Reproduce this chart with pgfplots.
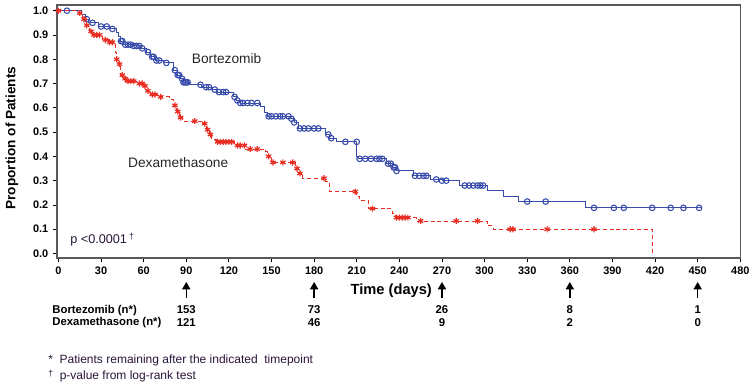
\documentclass[border=0pt]{standalone}
\usepackage{fontspec}
\setmainfont{Liberation Sans}
\usepackage{pgfplots}
\pgfplotsset{compat=1.18}
\usetikzlibrary{arrows.meta}
\definecolor{bblue}{RGB}{55,75,170}
\definecolor{dred}{RGB}{232,45,35}
\definecolor{txt}{RGB}{40,20,55}
\begin{document}
\begin{tikzpicture}
\path[use as bounding box] (-42.75pt,-95.25pt) rectangle (521.25pt,193.5pt);
\begin{axis}[
  at={(0,0)}, anchor=south west,
  scale only axis, width=512.8pt, height=189.75pt,
  xmin=-1, xmax=480.3, ymin=-0.0185, ymax=1.0235,
  clip=false,
  xtick={0,30,60,90,120,150,180,210,240,270,300,330,360,390,420,450,480},
  ytick={0,0.1,0.2,0.3,0.4,0.5,0.6,0.7,0.8,0.9,1.0},
  yticklabel style={/pgf/number format/.cd,fixed,fixed zerofill,precision=1},
  /pgf/number format/assume math mode=true,
  tick label style={font=\bfseries\fontsize{8.2}{9}\selectfont},
  xtick pos=bottom, ytick pos=left, tick align=outside,
  major tick length=3pt,
  axis line style={draw=black!65, line width=0.8pt},
  every tick/.style={black, line width=0.6pt},
]
% Bortezomib step curve
\addplot[const plot, bblue, line width=0.7pt, no markers] coordinates {
(0,1.0) (16,0.985) (19,0.965) (21,0.95) (28,0.935) (36,0.925) (41,0.91) (42,0.895)
(44,0.875) (46,0.86) (52,0.855) (58,0.845) (62,0.83) (65,0.81) (68,0.795) (74,0.785)
(81,0.755) (84,0.735) (86,0.72) (88,0.705) (92,0.695) (101,0.685) (108,0.675) (112,0.665)
(123,0.645) (125,0.63) (128,0.62) (142,0.605) (145,0.58) (147,0.565) (163,0.555) (166,0.54)
(169,0.515) (188,0.49) (191,0.475) (196,0.46) (210,0.40) (211,0.39) (231,0.37) (235,0.355)
(238,0.34) (250,0.32) (262,0.305) (270,0.30) (282,0.28) (302,0.26) (313,0.235) (324,0.214)
(371,0.188) (452,0.188)};
\addplot[only marks, mark=o, mark size=2.1pt, bblue, mark options={line width=0.8pt}] coordinates {
(6,1.0) (20,0.965) (24,0.95) (30,0.935) (34,0.935) (38,0.925) (44,0.875) (45,0.875) (47,0.86)
(49,0.86) (51,0.86) (53,0.855) (55,0.855) (57,0.855) (59,0.845) (63,0.83) (66,0.81) (67,0.81)
(69,0.795) (71,0.795) (76,0.785) (82,0.755) (84,0.735) (85,0.735) (87,0.72) (88,0.705)
(89,0.705) (90,0.705) (91,0.705) (100,0.695) (104,0.685) (106,0.685) (110,0.675) (113,0.665)
(116,0.665) (118,0.665) (124,0.645) (126,0.63) (128,0.62) (130,0.62) (133,0.62) (136,0.62)
(140,0.62) (148,0.565) (150,0.565) (153,0.565) (156,0.565) (158,0.565) (162,0.565) (164,0.555)
(166,0.54) (170,0.515) (173,0.515) (176,0.515) (180,0.515) (183,0.515) (190,0.49) (192,0.475)
(202,0.46) (210,0.46) (212,0.39) (216,0.39) (220,0.39) (224,0.39) (226,0.39) (228,0.39)
(232,0.37) (234,0.37) (236,0.355) (237,0.355) (238,0.34) (251,0.32) (254,0.32) (257,0.32)
(259,0.32) (266,0.305) (270,0.30) (273,0.30) (286,0.28) (289,0.28) (292,0.28) (295,0.28)
(297,0.28) (299,0.28) (330,0.214) (343,0.214) (377,0.188) (391,0.188) (398,0.188) (418,0.188)
(431,0.188) (440,0.188) (451,0.188)};
% Dexamethasone step curve
\addplot[const plot, dred, line width=0.7pt, dash pattern=on 3pt off 2.2pt, no markers] coordinates {
(0,1.0) (14,0.99) (17,0.965) (20,0.94) (22,0.915) (24,0.90) (31,0.88) (35,0.87) (40,0.83)
(41,0.80) (42,0.78) (44,0.735) (46,0.72) (48,0.71) (55,0.70) (60,0.69) (62,0.67) (65,0.655)
(70,0.645) (78,0.635) (81,0.61) (83,0.585) (85,0.56) (87,0.545) (101,0.535) (104,0.51)
(106,0.49) (108,0.47) (111,0.46) (124,0.445) (132,0.43) (146,0.42) (147,0.40) (150,0.375)
(167,0.35) (169,0.33) (172,0.31) (188,0.295) (191,0.255) (210,0.235) (212,0.22) (218,0.185)
(235,0.165) (237,0.148) (252,0.134) (302,0.115) (306,0.10) (418,0.10) (418,0.0)};
\addplot[only marks, mark=asterisk, mark size=2.3pt, dred, mark options={line width=0.9pt, solid}] coordinates {
(0,1.0) (15,0.99) (18,0.965) (20,0.94) (23,0.915) (25,0.90) (27,0.90) (29,0.90) (33,0.88)
(36,0.87) (38,0.87) (41,0.80) (43,0.78) (45,0.735) (47,0.72) (49,0.71) (51,0.71) (53,0.71)
(57,0.70) (59,0.70) (61,0.69) (63,0.67) (66,0.655) (68,0.655) (72,0.645) (82,0.61) (84,0.585)
(86,0.56) (96,0.545) (103,0.535) (105,0.51) (107,0.49) (112,0.46) (114,0.46) (116,0.46)
(118,0.46) (120,0.46) (122,0.46) (126,0.445) (128,0.445) (131,0.445) (135,0.43) (140,0.43)
(148,0.40) (151,0.375) (158,0.375) (165,0.375) (168,0.35) (170,0.33) (187,0.31) (209,0.255)
(221,0.185) (238,0.148) (240,0.148) (242,0.148) (244,0.148) (246,0.148) (255,0.134)
(280,0.134) (295,0.134) (318,0.10) (320,0.10) (344,0.10) (377,0.10)};
% arrows at timepoints
\addplot[black, line width=1.1pt, no markers, -{Triangle[width=6pt,length=5.5pt]},
  quiver={u=0, v=0.066, every arrow/.append style={-{Triangle[width=6pt,length=5.5pt]}}}]
  coordinates {(90,-0.183) (180,-0.183) (270,-0.183) (360,-0.183) (450,-0.183)};
% texts
\node[font=\fontsize{10.3}{12}\selectfont, text=black!85] at (axis cs:118.4,0.801) {Bortezomib};
\node[font=\fontsize{10.3}{12}\selectfont, text=black!85] at (axis cs:84.3,0.373) {Dexamethasone};
\node[anchor=west, font=\fontsize{9.5}{11}\selectfont, text=txt, inner sep=0pt] at (axis cs:8.2,0.056) {p <0.0001\,\raisebox{0.6ex}{\fontsize{6.5}{7}\selectfont †}};
\node[font=\bfseries\fontsize{11}{13}\selectfont] at (axis cs:234.3,-0.154) {Time (days)};
\node[rotate=90, font=\bfseries\fontsize{10.2}{12}\selectfont] at (axis cs:-32.8,0.475) {Proportion of Patients};
\node[anchor=west, inner sep=0pt, font=\bfseries\fontsize{8.5}{10}\selectfont] at (axis cs:-4.4,-0.233) {Bortezomib (n*)};
\node[anchor=west, inner sep=0pt, font=\bfseries\fontsize{8.5}{10}\selectfont] at (axis cs:-4.4,-0.286) {Dexamethasone (n*)};
\node[font=\bfseries\fontsize{8.5}{10}\selectfont] at (axis cs:90,-0.233) {153};
\node[font=\bfseries\fontsize{8.5}{10}\selectfont] at (axis cs:90,-0.286) {121};
\node[font=\bfseries\fontsize{8.5}{10}\selectfont] at (axis cs:180,-0.233) {73};
\node[font=\bfseries\fontsize{8.5}{10}\selectfont] at (axis cs:180,-0.286) {46};
\node[font=\bfseries\fontsize{8.5}{10}\selectfont] at (axis cs:270,-0.233) {26};
\node[font=\bfseries\fontsize{8.5}{10}\selectfont] at (axis cs:270,-0.286) {9};
\node[font=\bfseries\fontsize{8.5}{10}\selectfont] at (axis cs:360,-0.233) {8};
\node[font=\bfseries\fontsize{8.5}{10}\selectfont] at (axis cs:360,-0.286) {2};
\node[font=\bfseries\fontsize{8.5}{10}\selectfont] at (axis cs:450,-0.233) {1};
\node[font=\bfseries\fontsize{8.5}{10}\selectfont] at (axis cs:450,-0.286) {0};
\node[anchor=west, inner sep=0pt, font=\fontsize{9}{10}\selectfont, text=txt] at (axis cs:-7.3,-0.439) {*\ \ Patients remaining after the indicated\ \ timepoint};
\node[anchor=west, inner sep=0pt, font=\fontsize{9}{10}\selectfont, text=txt] at (axis cs:-7.3,-0.504) {\raisebox{0.4ex}{\fontsize{6.5}{7}\selectfont †}\ \ p-value from log-rank test};
\end{axis}
\end{tikzpicture}
\end{document}
